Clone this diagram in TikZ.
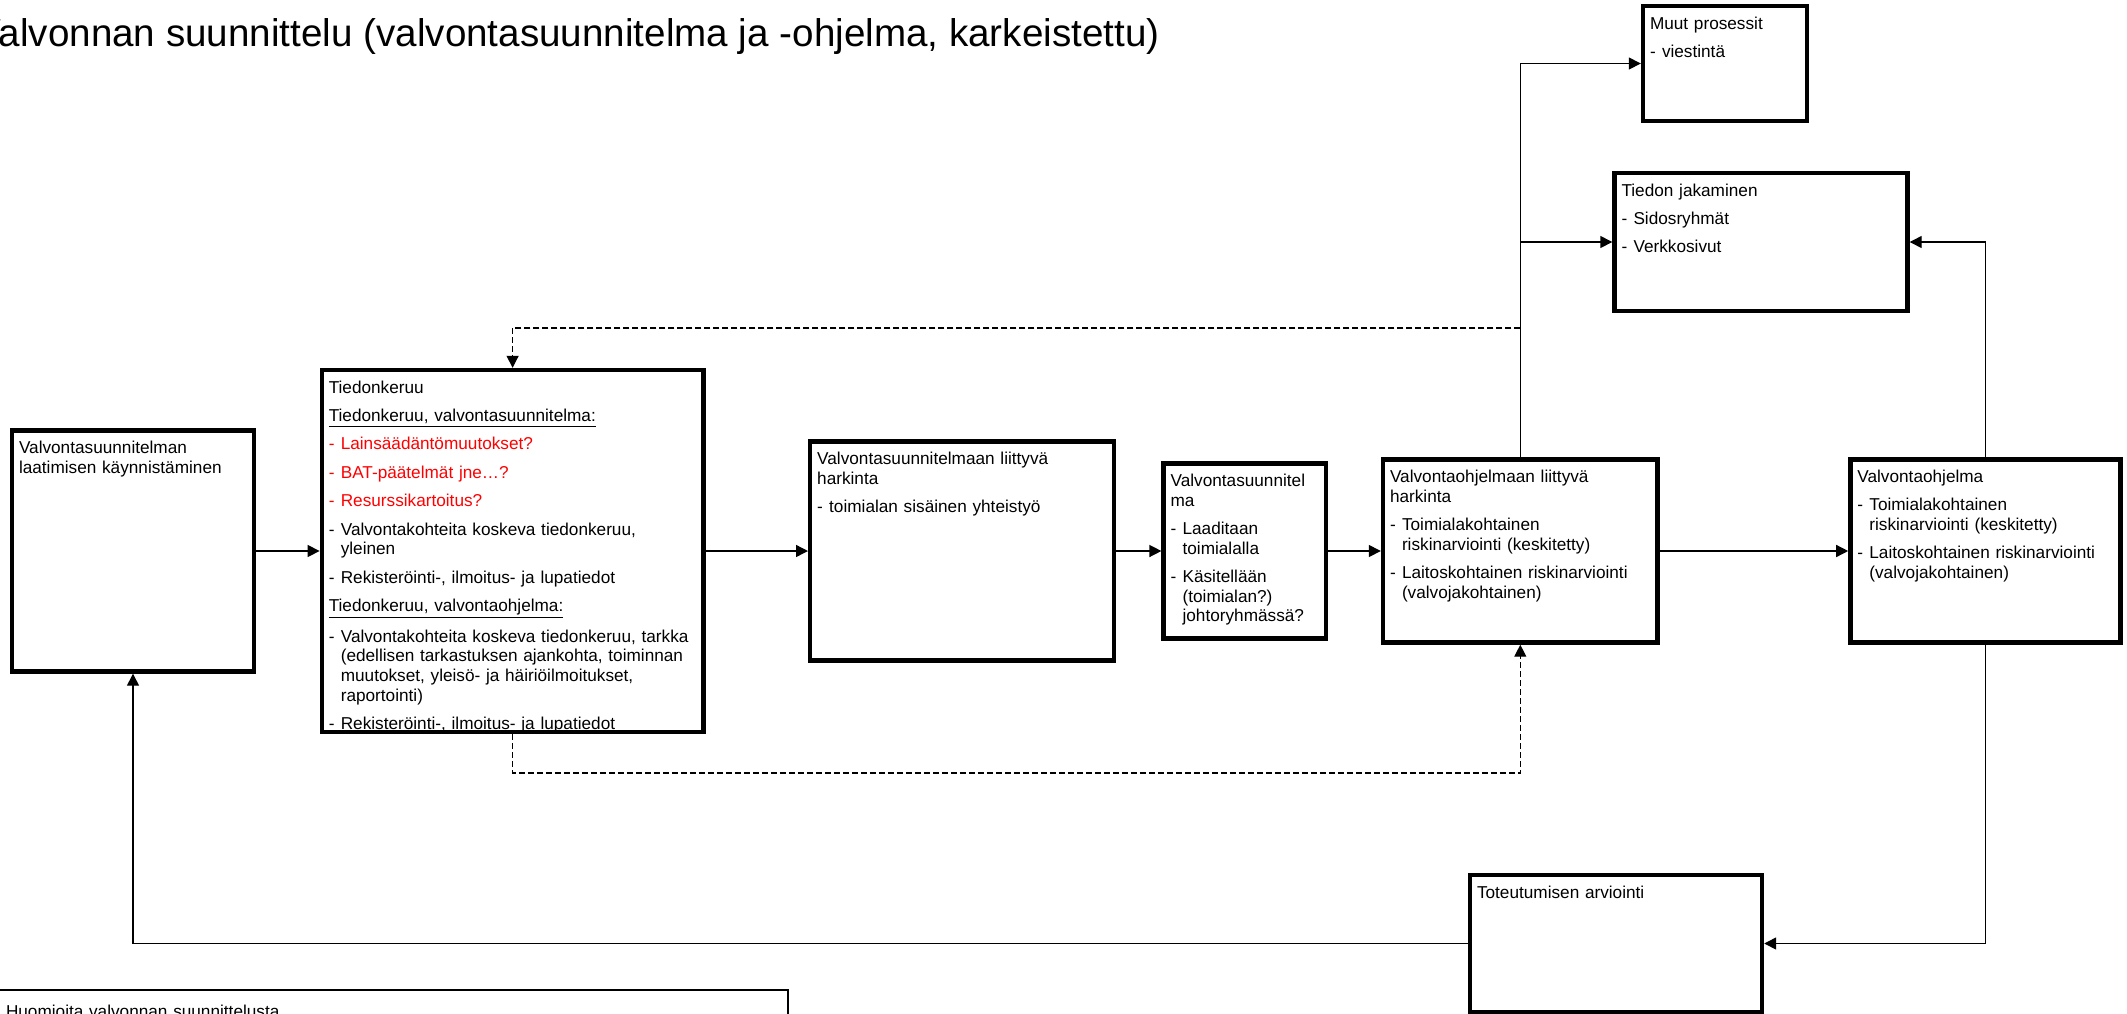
\documentclass[tikz,border=0pt]{standalone}
\usepackage{fontspec}
\setmainfont{Liberation Sans}
\usepackage{tikz}
\usetikzlibrary{arrows.meta,positioning}

\newcommand{\itemdash}{\makebox[6pt][l]{-}}
\newcommand{\itemhang}{\hspace*{6pt}}

\begin{document}
\begin{tikzpicture}[>={Triangle[length=6pt,width=6pt]}, x=0.5pt, y=-0.5pt]
	\tikzstyle{link}=[line width=0.7pt]
	\tikzstyle{back}=[line width=0.6pt, dash pattern=on 3pt off 1.5pt]
	\tikzset{box/.style 2 args={draw, line width=2.2pt, inner xsep=3.5pt,
		inner ysep=3pt, text width=#1-7pt, text height=8.5pt,
		text depth=#2-14.5pt, align=left,
		font=\fontsize{8.6}{9.8}\selectfont}}
	\useasboundingbox (0,0) rectangle (2127,1013);
	\clip (0,0) rectangle (2127,1013);
	% % Nodes
	% title
	\node[anchor=base east, inner sep=0pt, font=\fontsize{19.3}{23}\selectfont]
	(title) at (1160,46)
	{Valvonnan suunnittelu (valvontasuunnitelma ja -ohjelma, karkeistettu)};
	% start
	\node[box={121pt}{120.5pt}] (start) at (133,551)
	{Valvontasuunnitelman\\ laatimisen käynnistäminen};
	% data collection
	\node[box={190.8pt}{181pt}, right=31.7pt of start] (collect)
	{
		Tiedonkeruu\\[4.4pt]
		\underline{Tiedonkeruu, valvontasuunnitelma:}\\[4.4pt]
		\textcolor{red}{\itemdash Lainsäädäntömuutokset?}\\[4.4pt]
		\textcolor{red}{\itemdash BAT-päätelmät jne…?}\\[4.4pt]
		\textcolor{red}{\itemdash Resurssikartoitus?}\\[4.4pt]
		\itemdash Valvontakohteita koskeva tiedonkeruu,\\
		\itemhang yleinen\\[4.4pt]
		\itemdash Rekisteröinti-, ilmoitus- ja lupatiedot\\[4.4pt]
		\underline{Tiedonkeruu, valvontaohjelma:}\\[4.4pt]
		\itemdash Valvontakohteita koskeva tiedonkeruu, tarkka\\
		\itemhang (edellisen tarkastuksen ajankohta, toiminnan\\
		\itemhang muutokset, yleisö- ja häiriöilmoitukset,\\
		\itemhang raportointi)\\[4.4pt]
		\itemdash Rekisteröinti-, ilmoitus- ja lupatiedot
	};
	% plan consideration
	\node[box={151.8pt}{109.5pt}, right=51.2pt of collect] (planthink)
	{
		Valvontasuunnitelmaan liittyvä\\ harkinta\\[4.4pt]
		\itemdash toimialan sisäinen yhteistyö
	};
	% plan
	\node[box={81.3pt}{87.5pt}, right=22.7pt of planthink] (plan)
	{
		Valvontasuunnitel\\ ma\\[4.4pt]
		\itemdash Laaditaan\\ \itemhang toimialalla\\[4.4pt]
		\itemdash Käsitellään\\ \itemhang (toimialan?)\\ \itemhang johtoryhmässä?
	};
	% programme consideration
	\node[box={137.3pt}{91.5pt}, right=26.2pt of plan] (progthink)
	{
		Valvontaohjelmaan liittyvä\\ harkinta\\[4.4pt]
		\itemdash Toimialakohtainen\\ \itemhang riskinarviointi (keskitetty)\\[4.4pt]
		\itemdash Laitoskohtainen riskinarviointi\\ \itemhang (valvojakohtainen)
	};
	% programme
	\node[box={135pt}{91.5pt}, right=94.2pt of progthink] (prog)
	{
		Valvontaohjelma\\[4.4pt]
		\itemdash Toimialakohtainen\\ \itemhang riskinarviointi (keskitetty)\\[4.4pt]
		\itemdash Laitoskohtainen riskinarviointi\\ \itemhang (valvojakohtainen)
	};
	% other processes
	\node[box={82pt}{57.5pt}] (other) at (1725,63.5)
	{Muut prosessit\\[4.4pt] \itemdash viestintä};
	% sharing
	\node[box={146.5pt}{69pt}] (share) at (1761,242)
	{Tiedon jakaminen\\[4.4pt] \itemdash Sidosryhmät\\[4.4pt] \itemdash Verkkosivut};
	% evaluation
	\node[box={146pt}{68.5pt}] (review) at (1616,943.5)
	{Toteutumisen arviointi};
	% notes
	\node[box={394.5pt}{60pt}, line width=1pt, text height=10.5pt,
		  anchor=north west] (notes) at (-2,989)
	{Huomioita valvonnan suunnittelusta};
	% % Connectors
	\coordinate (fork) at (progthink.north |- 0,328);
	\coordinate (dip) at (collect.south |- 0,773);
	\draw[link,->] (start) -- (collect);
	\draw[link,->] (collect) -- (planthink);
	\draw[link,->] (planthink) -- (plan);
	\draw[link,->] (plan) -- (progthink);
	\draw[link,->] (progthink) -- (prog);
	\draw[link,->] (progthink.north) |- (other.west);
	\draw[link,->] (progthink.north |- share.west) -- (share.west);
	\draw[link,->] (prog.north) |- (share.east);
	\draw[link,->] (prog.south) |- (review.east);
	\draw[link,->] (review.west) -| (start.south);
	\draw[back,->] (fork) -| (collect.north);
	\draw[back,->] (collect.south) -- (dip) -| (progthink.south);
\end{tikzpicture}
\end{document}
